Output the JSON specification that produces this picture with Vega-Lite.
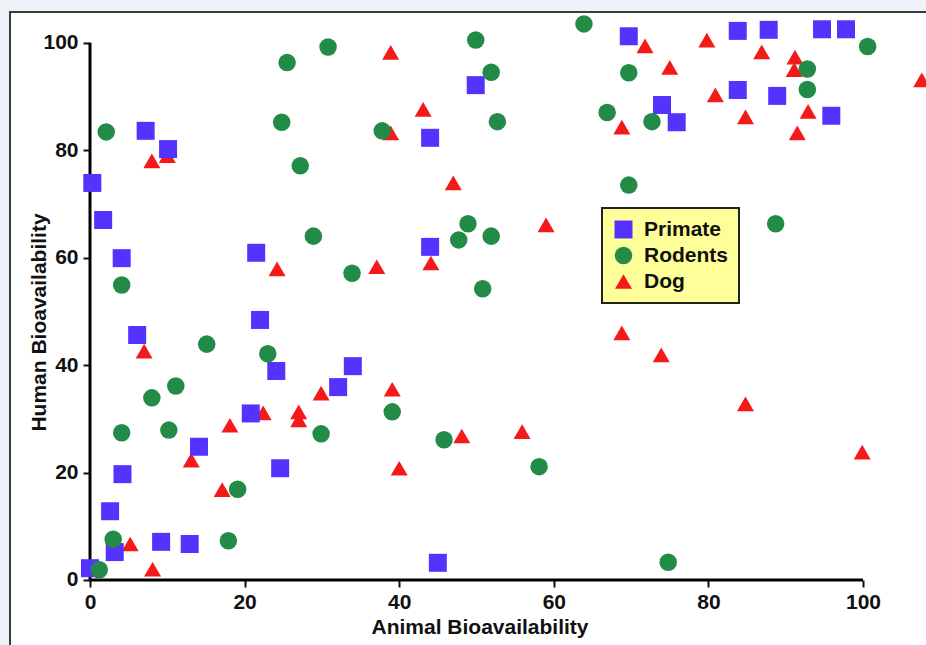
{
  "$schema": "https://vega.github.io/schema/vega-lite/v6.json",
  "width": 918,
  "height": 635,
  "autosize": {"type": "none"},
  "padding": {"left": 10, "top": 12, "right": -2, "bottom": -2},
  "background": "#eef3f9",
  "view": {"stroke": "#3c3c3c", "strokeWidth": 2, "fill": "white"},
  "datasets": {
    "axes": [
      {"a": 0, "h": 0, "a2": 100, "h2": 0},
      {"a": 0, "h": 0, "a2": 0, "h2": 100}
    ],
    "pts": [
      {"s": "Dog", "a": 8.0, "h": 78.0}, {"s": "Dog", "a": 10.0, "h": 79.0}, {"s": "Dog", "a": 7.0, "h": 42.6},
      {"s": "Dog", "a": 24.2, "h": 57.9}, {"s": "Dog", "a": 22.4, "h": 31.1}, {"s": "Dog", "a": 18.1, "h": 28.8},
      {"s": "Dog", "a": 27.0, "h": 31.3}, {"s": "Dog", "a": 27.0, "h": 29.8}, {"s": "Dog", "a": 13.1, "h": 22.3},
      {"s": "Dog", "a": 17.1, "h": 16.8}, {"s": "Dog", "a": 5.2, "h": 6.7}, {"s": "Dog", "a": 8.1, "h": 2.0},
      {"s": "Dog", "a": 29.9, "h": 34.8}, {"s": "Dog", "a": 37.1, "h": 58.3}, {"s": "Dog", "a": 44.1, "h": 59.0},
      {"s": "Dog", "a": 59.0, "h": 66.1}, {"s": "Dog", "a": 39.1, "h": 35.5}, {"s": "Dog", "a": 68.8, "h": 46.0},
      {"s": "Dog", "a": 38.9, "h": 98.2}, {"s": "Dog", "a": 43.1, "h": 87.6}, {"s": "Dog", "a": 38.9, "h": 83.2},
      {"s": "Dog", "a": 47.0, "h": 73.9}, {"s": "Dog", "a": 40.0, "h": 20.8}, {"s": "Dog", "a": 48.1, "h": 26.8},
      {"s": "Dog", "a": 55.9, "h": 27.6}, {"s": "Dog", "a": 71.8, "h": 99.4}, {"s": "Dog", "a": 75.0, "h": 95.4},
      {"s": "Dog", "a": 79.8, "h": 100.5}, {"s": "Dog", "a": 86.9, "h": 98.3}, {"s": "Dog", "a": 91.2, "h": 97.3},
      {"s": "Dog", "a": 91.1, "h": 95.0}, {"s": "Dog", "a": 68.8, "h": 84.3}, {"s": "Dog", "a": 80.9, "h": 90.3},
      {"s": "Dog", "a": 84.8, "h": 86.2}, {"s": "Dog", "a": 92.9, "h": 87.2}, {"s": "Dog", "a": 91.5, "h": 83.2},
      {"s": "Dog", "a": 107.6, "h": 93.1}, {"s": "Dog", "a": 73.9, "h": 41.9}, {"s": "Dog", "a": 84.8, "h": 32.8},
      {"s": "Dog", "a": 99.9, "h": 23.8},
      {"s": "Primate", "a": 0.3, "h": 73.9}, {"s": "Primate", "a": 1.7, "h": 67.0}, {"s": "Primate", "a": 7.2, "h": 83.6},
      {"s": "Primate", "a": 10.1, "h": 80.2}, {"s": "Primate", "a": 4.1, "h": 59.9}, {"s": "Primate", "a": 6.1, "h": 45.6},
      {"s": "Primate", "a": 21.5, "h": 60.9}, {"s": "Primate", "a": 22.0, "h": 48.4}, {"s": "Primate", "a": 24.1, "h": 38.9},
      {"s": "Primate", "a": 20.8, "h": 31.0}, {"s": "Primate", "a": 14.1, "h": 24.8}, {"s": "Primate", "a": 24.6, "h": 20.8},
      {"s": "Primate", "a": 4.2, "h": 19.7}, {"s": "Primate", "a": 2.6, "h": 12.8}, {"s": "Primate", "a": 3.2, "h": 5.2},
      {"s": "Primate", "a": 9.2, "h": 7.1}, {"s": "Primate", "a": 12.9, "h": 6.7}, {"s": "Primate", "a": 0.0, "h": 2.2},
      {"s": "Primate", "a": 45.0, "h": 3.2}, {"s": "Primate", "a": 32.1, "h": 35.9}, {"s": "Primate", "a": 34.0, "h": 39.8},
      {"s": "Primate", "a": 44.0, "h": 82.3}, {"s": "Primate", "a": 49.9, "h": 92.1}, {"s": "Primate", "a": 44.0, "h": 62.0},
      {"s": "Primate", "a": 69.7, "h": 101.2}, {"s": "Primate", "a": 83.8, "h": 102.2}, {"s": "Primate", "a": 87.8, "h": 102.4},
      {"s": "Primate", "a": 94.7, "h": 102.5}, {"s": "Primate", "a": 97.8, "h": 102.5}, {"s": "Primate", "a": 74.0, "h": 88.4},
      {"s": "Primate", "a": 75.9, "h": 85.2}, {"s": "Primate", "a": 83.8, "h": 91.2}, {"s": "Primate", "a": 88.9, "h": 90.1},
      {"s": "Primate", "a": 95.9, "h": 86.4},
      {"s": "Rodents", "a": 2.1, "h": 83.4}, {"s": "Rodents", "a": 25.5, "h": 96.3}, {"s": "Rodents", "a": 24.8, "h": 85.2},
      {"s": "Rodents", "a": 27.2, "h": 77.1}, {"s": "Rodents", "a": 30.8, "h": 99.2}, {"s": "Rodents", "a": 4.1, "h": 54.9},
      {"s": "Rodents", "a": 15.1, "h": 43.9}, {"s": "Rodents", "a": 23.0, "h": 42.1}, {"s": "Rodents", "a": 8.0, "h": 33.9},
      {"s": "Rodents", "a": 11.1, "h": 36.1}, {"s": "Rodents", "a": 28.9, "h": 64.0}, {"s": "Rodents", "a": 4.1, "h": 27.4},
      {"s": "Rodents", "a": 10.2, "h": 27.9}, {"s": "Rodents", "a": 19.1, "h": 16.9}, {"s": "Rodents", "a": 3.0, "h": 7.6},
      {"s": "Rodents", "a": 17.9, "h": 7.3}, {"s": "Rodents", "a": 1.2, "h": 1.9}, {"s": "Rodents", "a": 29.9, "h": 27.2},
      {"s": "Rodents", "a": 49.9, "h": 100.5}, {"s": "Rodents", "a": 51.9, "h": 94.5}, {"s": "Rodents", "a": 52.7, "h": 85.3},
      {"s": "Rodents", "a": 37.8, "h": 83.6}, {"s": "Rodents", "a": 63.9, "h": 103.5}, {"s": "Rodents", "a": 66.9, "h": 87.0},
      {"s": "Rodents", "a": 33.9, "h": 57.1}, {"s": "Rodents", "a": 48.9, "h": 66.3}, {"s": "Rodents", "a": 47.7, "h": 63.3},
      {"s": "Rodents", "a": 51.9, "h": 64.0}, {"s": "Rodents", "a": 50.8, "h": 54.2}, {"s": "Rodents", "a": 39.1, "h": 31.3},
      {"s": "Rodents", "a": 45.8, "h": 26.1}, {"s": "Rodents", "a": 58.1, "h": 21.1}, {"s": "Rodents", "a": 69.7, "h": 94.4},
      {"s": "Rodents", "a": 72.7, "h": 85.3}, {"s": "Rodents", "a": 92.8, "h": 95.1}, {"s": "Rodents", "a": 92.8, "h": 91.3},
      {"s": "Rodents", "a": 100.6, "h": 99.3}, {"s": "Rodents", "a": 69.7, "h": 73.5}, {"s": "Rodents", "a": 88.7, "h": 66.3},
      {"s": "Rodents", "a": 74.8, "h": 3.3}
    ]
  },
  "layer": [
    {
      "data": {"name": "axes"},
      "mark": {"type": "rule", "color": "#000000", "strokeWidth": 3},
      "encoding": {
        "x": {"field": "a", "type": "quantitative", "scale": {"domain": [-10.349, 108.409], "nice": false, "zero": false}},
        "y": {"field": "h", "type": "quantitative", "scale": {"domain": [-12.47, 105.714], "nice": false, "zero": false}},
        "x2": {"field": "a2"},
        "y2": {"field": "h2"}
      }
    },
    {
      "data": {"name": "pts"},
      "mark": {"type": "point", "filled": true, "opacity": 1, "strokeWidth": 0},
      "encoding": {
        "x": {
          "field": "a", "type": "quantitative",
          "scale": {"domain": [-10.349, 108.409], "nice": false, "zero": false},
          "axis": {"title": "Animal Bioavailability", "values": [0, 20, 40, 60, 80, 100], "format": "d", "offset": -67, "titleX": 469.5, "titleY": 53, "titleBaseline": "alphabetic", "titleAlign": "center", "labelPadding": 4}
        },
        "y": {
          "field": "h", "type": "quantitative",
          "scale": {"domain": [-12.47, 105.714], "nice": false, "zero": false},
          "axis": {"title": "Human Bioavailability", "values": [0, 20, 40, 60, 80, 100], "format": "d", "offset": -80, "titleX": -45, "titleY": 310, "titleAngle": -90, "titleBaseline": "alphabetic", "titleAlign": "center", "labelPadding": 5}
        },
        "color": {
          "field": "s", "type": "nominal",
          "scale": {"domain": ["Primate", "Rodents", "Dog"], "range": ["#5533ff", "#228b47", "#f51a1a"]},
          "legend": {"title": null}
        },
        "shape": {
          "field": "s", "type": "nominal",
          "scale": {"domain": ["Primate", "Rodents", "Dog"], "range": ["square", "circle", "triangle-up"]},
          "legend": {"title": null}
        },
        "size": {
          "field": "s", "type": "nominal",
          "scale": {"domain": ["Primate", "Rodents", "Dog"], "range": [324, 289, 400]},
          "legend": {"title": null}
        }
      }
    }
  ],
  "config": {
    "font": "Liberation Sans",
    "axis": {
      "domain": false,
      "grid": false,
      "labelFont": "Liberation Sans",
      "labelFontWeight": "bold",
      "labelFontSize": 21,
      "labelColor": "#111111",
      "titleFont": "Liberation Sans",
      "titleFontWeight": "bold",
      "titleFontSize": 21,
      "titleColor": "#111111",
      "tickColor": "#111111",
      "tickWidth": 2,
      "tickSize": 7,
      "labelFlush": false,
      "labelOverlap": false
    },
    "legend": {
      "orient": "none",
      "legendX": 592,
      "legendY": 196,
      "fillColor": "#ffff99",
      "strokeColor": "#222222",
      "strokeWidth": 2,
      "padding": 11,
      "labelFont": "Liberation Sans",
      "labelFontWeight": "bold",
      "labelFontSize": 21,
      "labelColor": "#111111",
      "labelOffset": 10,
      "rowPadding": 4,
      "symbolStrokeWidth": 0,
      "symbolOpacity": 1
    }
  }
}
